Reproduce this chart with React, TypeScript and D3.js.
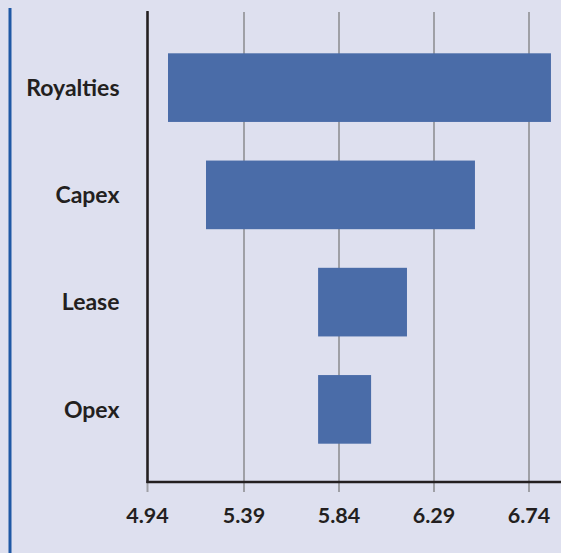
import React from "react";
import * as d3 from "d3";

const categories = ["Royalties", "Capex", "Lease", "Opex"];
const lowValues = [5.03, 5.21, 5.741, 5.741];
const highValues = [6.844, 6.484, 6.162, 5.992];
const tickValues = [4.94, 5.39, 5.84, 6.29, 6.74];

const W = 561;
const H = 553;

export default function App() {
  const x = d3.scaleLinear().domain([4.94, 6.74]).range([149, 529]);
  const y = d3
    .scaleBand<string>()
    .domain(categories)
    .range([34, 463])
    .paddingInner(0.36)
    .paddingOuter(0.18);
  const axisY = 482;
  const axisX = 147.5;
  const font = "Lato, 'Open Sans', 'DejaVu Sans', sans-serif";
  return (
    <svg
      width={W}
      height={H}
      style={{ position: "absolute", left: 0, top: 0, display: "block" }}
    >
      <rect x={0} y={0} width={W} height={H} fill="#dee0ef" />
      <line x1={10} x2={10} y1={8} y2={H} stroke="#1f58a5" strokeWidth={3} />
      {tickValues.map((t, i) => (
        <line
          key={"g" + t}
          x1={i === 0 ? axisX : x(t)}
          x2={i === 0 ? axisX : x(t)}
          y1={12}
          y2={axisY + 10}
          stroke="#9fa0a6"
          strokeWidth={2}
        />
      ))}
      {categories.map((c, i) => (
        <rect
          key={c}
          x={x(lowValues[i])}
          y={y(c)}
          width={x(highValues[i]) - x(lowValues[i])}
          height={y.bandwidth()}
          fill="#4a6ca8"
        />
      ))}
      <line x1={axisX} x2={axisX} y1={11} y2={axisY + 1} stroke="#231f20" strokeWidth={2.5} />
      <line x1={axisX - 1} x2={W} y1={axisY} y2={axisY} stroke="#231f20" strokeWidth={2.5} />
      {categories.map((c) => (
        <text
          key={"l" + c}
          x={119.5}
          y={(y(c) ?? 0) + y.bandwidth() / 2}
          dy="0.36em"
          textAnchor="end"
          fontFamily={font}
          fontWeight="bold"
          fontSize={23}
          fill="#231f20"
        >
          {c}
        </text>
      ))}
      {tickValues.map((t, i) => (
        <text
          key={"t" + t}
          x={i === 0 ? axisX : x(t)}
          y={523.3}
          textAnchor="middle"
          fontFamily={font}
          fontWeight="bold"
          fontSize={21.5}
          fill="#231f20"
        >
          {t.toFixed(2)}
        </text>
      ))}
    </svg>
  );
}
